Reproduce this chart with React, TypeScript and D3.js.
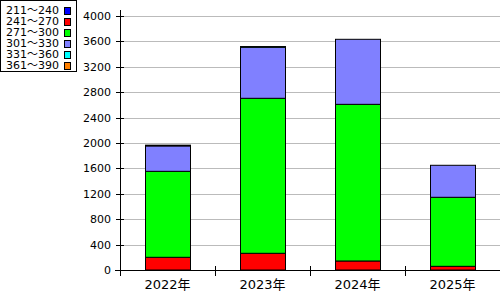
import React from "react";
import * as d3 from "d3";

const years = ["2022年", "2023年", "2024年", "2025年"];
const seriesNames = ["211～240", "241～270", "271～300", "301～330", "331～360", "361～390"];
const seriesColors = ["#0000ff", "#ff0000", "#00ff00", "#8080ff", "#00ffff", "#ff8000"];
const s211 = [0, 0, 0, 0];
const s241 = [200, 263, 142, 58];
const s271 = [1354, 2441, 2467, 1087];
const s301 = [400, 803, 1024, 504];
const s331 = [12, 12, 0, 0];
const s361 = [0, 0, 0, 0];
const yTicks = [0, 400, 800, 1200, 1600, 2000, 2400, 2800, 3200, 3600, 4000];

const W = 500;
const H = 300;
const left = 120;
const right = 500;
const top = 16;
const bottom = 270;
const font = "'DejaVu Sans', 'Noto Sans CJK JP', sans-serif";

export default function App() {
  const allSeries = [s211, s241, s271, s301, s331, s361];
  const table = years.map((y, i) => {
    const row: any = { year: y };
    seriesNames.forEach((n, k) => (row[n] = allSeries[k][i]));
    return row;
  });
  const stack = d3.stack().keys(seriesNames);
  const stacked = stack(table as any);
  const x = d3.scaleBand().domain(years).range([left, right]).padding(0);
  const y = d3.scaleLinear().domain([0, 4000]).range([bottom, top]);
  const barW = x.bandwidth() * (45 / 95);
  const boundaries = years.map((yr) => x(yr) as number);

  return (
    <svg
      width={W}
      height={H}
      style={{ position: "absolute", left: 0, top: 0, display: "block" }}
      fontFamily={font}
    >
      <rect x={0} y={0} width={W} height={H} fill="#fff" />
      {yTicks.map((t) => (
        <line key={"g" + t} x1={left} x2={right} y1={Math.round(y(t)) + 0.5} y2={Math.round(y(t)) + 0.5} stroke="#bbb" strokeWidth={1} />
      ))}
      {stacked.map((layer, k) =>
        layer.map((d, i) => {
          const v = d[1] - d[0];
          if (v <= 0) return null;
          const cx = (x(years[i]) as number) + x.bandwidth() / 2;
          const y0 = y(d[0]);
          const y1 = y(d[1]);
          return (
            <rect
              key={k + "-" + i}
              x={Math.round(cx - barW / 2) + 0.5}
              y={y1}
              width={Math.round(barW)}
              height={y0 - y1}
              fill={seriesColors[k]}
              stroke="#000"
              strokeWidth={1}
            />
          );
        })
      )}
      {/* y axis */}
      <line x1={left + 0.5} x2={left + 0.5} y1={10} y2={bottom + 6} stroke="#000" />
      {yTicks.map((t) => (
        <g key={"t" + t}>
          <line x1={116} x2={124} y1={Math.round(y(t)) + 0.5} y2={Math.round(y(t)) + 0.5} stroke="#000" />
          <text x={111} y={y(t) + 4} fontSize={11} textAnchor="end" fill="#000">
            {t}
          </text>
        </g>
      ))}
      {/* x axis */}
      <line x1={115} x2={right} y1={bottom + 0.5} y2={bottom + 0.5} stroke="#000" />
      {boundaries.map((b, i) => (
        <line key={"xb" + i} x1={b + 0.5} x2={b + 0.5} y1={i === 0 ? bottom : bottom - 4} y2={bottom + 6} stroke="#000" />
      ))}
      {years.map((yr) => (
        <text
          key={yr}
          x={(x(yr) as number) + x.bandwidth() / 2}
          y={289}
          fontSize={13}
          textAnchor="middle"
          fill="#000"
        >
          {yr}
        </text>
      ))}
      {/* legend */}
      <rect x={0.5} y={0.5} width={76} height={71} fill="#fff" stroke="#000" />
      {seriesNames.map((n, k) => {
        const cy = 10.3 + k * 11;
        return (
          <g key={"l" + k}>
            <text x={6} y={cy + 4} fontSize={11} fill="#000">
              {n}
            </text>
            <rect x={64.5} y={Math.round(cy - 3.5) + 0.5} width={6} height={7} fill={seriesColors[k]} stroke="#000" />
          </g>
        );
      })}
    </svg>
  );
}
